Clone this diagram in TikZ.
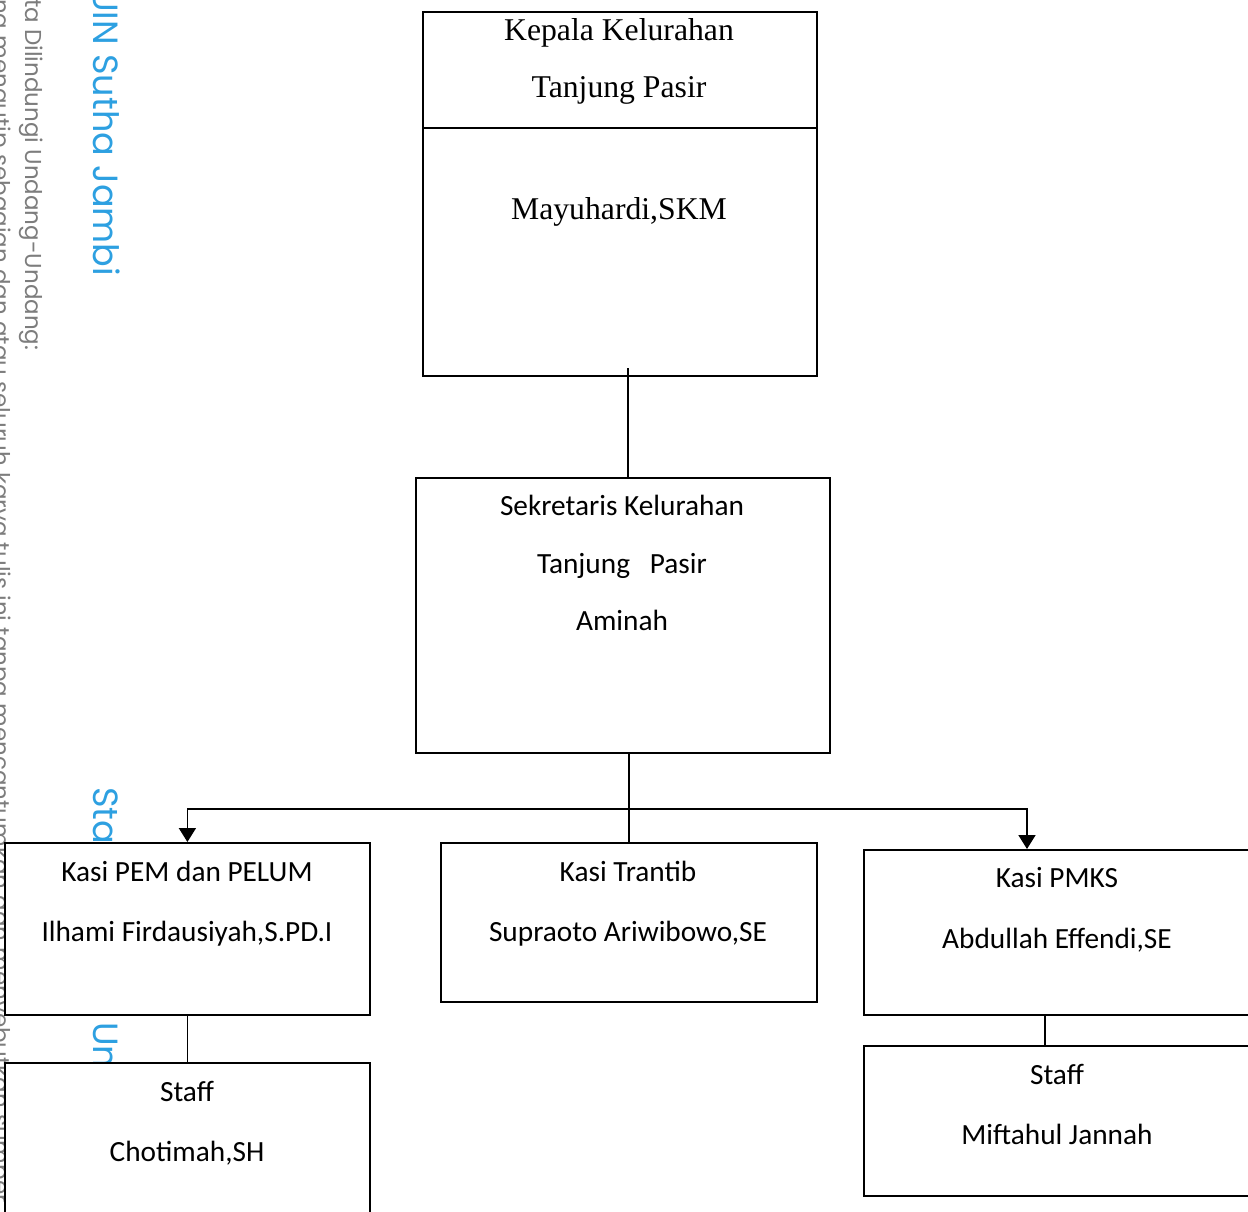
\documentclass[tikz,border=0pt]{standalone}
\usepackage{fontspec}
\setmainfont{Carlito}
\newfontfamily\seriffont{Liberation Serif}
\newfontfamily\wmfont{Poppins}
\usetikzlibrary{arrows.meta}
\definecolor{wmblue}{RGB}{45,160,225}
\definecolor{wmgray}{RGB}{125,125,125}
\begin{document}
\begin{tikzpicture}[x=1pt,y=-1pt,
  box/.style={draw=black, line width=1.8pt, fill=white, inner sep=0pt, anchor=north west},
  conn/.style={draw=black, line width=1.8pt},
  arr/.style={conn, {Triangle[width=17pt,length=14pt]}-{Triangle[width=17pt,length=14pt]}},
  stext/.style={font=\seriffont\fontsize{31.7}{38}\selectfont, inner sep=0pt, anchor=base},
  ctext/.style={font=\fontsize{29.3}{35}\selectfont, inner sep=0pt, anchor=base},
  wmb/.style={font=\wmfont\fontsize{35}{42}\selectfont, text=wmblue, rotate=-90, anchor=base west, inner sep=0pt},
  wmg/.style={font=\wmfont\fontsize{23}{28}\selectfont, text=wmgray, rotate=-90, anchor=base west, inner sep=0pt}]
\clip (0,0) rectangle (1248,1212);
\fill[white] (0,0) rectangle (1248,1212);
% watermark
\node[wmb] (w1) at (93,-12) {UIN Sutha Jambi};
\node[wmb] (w2) at (93,787) {State Islamic University of Sulthan Thaha Saifuddin Jambi};
\node[wmg] (w3) at (25,-1) {ta Dilindungi Undang-Undang:};
\node[wmg] (w4) at (-6,-1) {ng mengutip sebagian dan atau seluruh karya tulis ini tanpa mencantumkan dan menyebutkan sumber};
% boxes
\node[box, minimum width=394pt, minimum height=364pt] (kep) at (422,11) {};
\coordinate (kdiv) at (0,128);
\draw[conn] (kep.west |- kdiv) -- (kep.east |- kdiv);
\node[box, minimum width=414pt, minimum height=275pt] (sek) at (415,477) {};
\node[box, minimum width=365pt, minimum height=172pt] (pem) at (4,842) {};
\node[box, minimum width=376pt, minimum height=159pt] (tra) at (440,842) {};
\node[box, minimum width=400pt, minimum height=165pt] (pmks) at (863,849) {};
\node[box, minimum width=365pt, minimum height=170pt] (st1) at (4,1062) {};
\node[box, minimum width=400pt, minimum height=150pt] (st2) at (863,1045) {};
% connectors
\coordinate (ktop) at (628,368);
\draw[conn] (ktop) -- (sek.north -| ktop);
\draw[conn] (sek.south -| tra.north) -- (tra.north);
\coordinate (bus) at (628,809);
\coordinate (pmkin) at (1027,849);
\draw[arr] (pem.north) -- (pem.north |- bus) -- (bus -| pmkin) -- (pmkin);
\draw[conn] (pem.south) -- (st1.north);
\coordinate (sv) at (1045,0);
\draw[conn] (pmks.south -| sv) -- (st2.north -| sv);
% texts
\node[stext] (t1) at (619,41) {Kepala Kelurahan};
\node[stext] (t2) at (619,98) {Tanjung Pasir};
\node[stext] (t3) at (619,219) {Mayuhardi,SKM};
\node[ctext] (s1) at (622,515) {Sekretaris Kelurahan};
\node[ctext] (s2) at (622,573) {Tanjung\ \ \ Pasir};
\node[ctext] (s3) at (622,630) {Aminah};
\node[ctext] (p1) at (187,881) {Kasi PEM dan PELUM};
\node[ctext] (p2) at (187,941) {Ilhami Firdausiyah,S.PD.I};
\node[ctext] (r1) at (628,881) {Kasi Trantib};
\node[ctext] (r2) at (628,941) {Supraoto Ariwibowo,SE};
\node[ctext] (m1) at (1057,887) {Kasi PMKS};
\node[ctext] (m2) at (1057,948) {Abdullah Effendi,SE};
\node[ctext] (a1) at (187,1101) {Staff};
\node[ctext] (a2) at (187,1161) {Chotimah,SH};
\node[ctext] (b1) at (1057,1084) {Staff};
\node[ctext] (b2) at (1057,1144) {Miftahul Jannah};
\end{tikzpicture}
\end{document}
